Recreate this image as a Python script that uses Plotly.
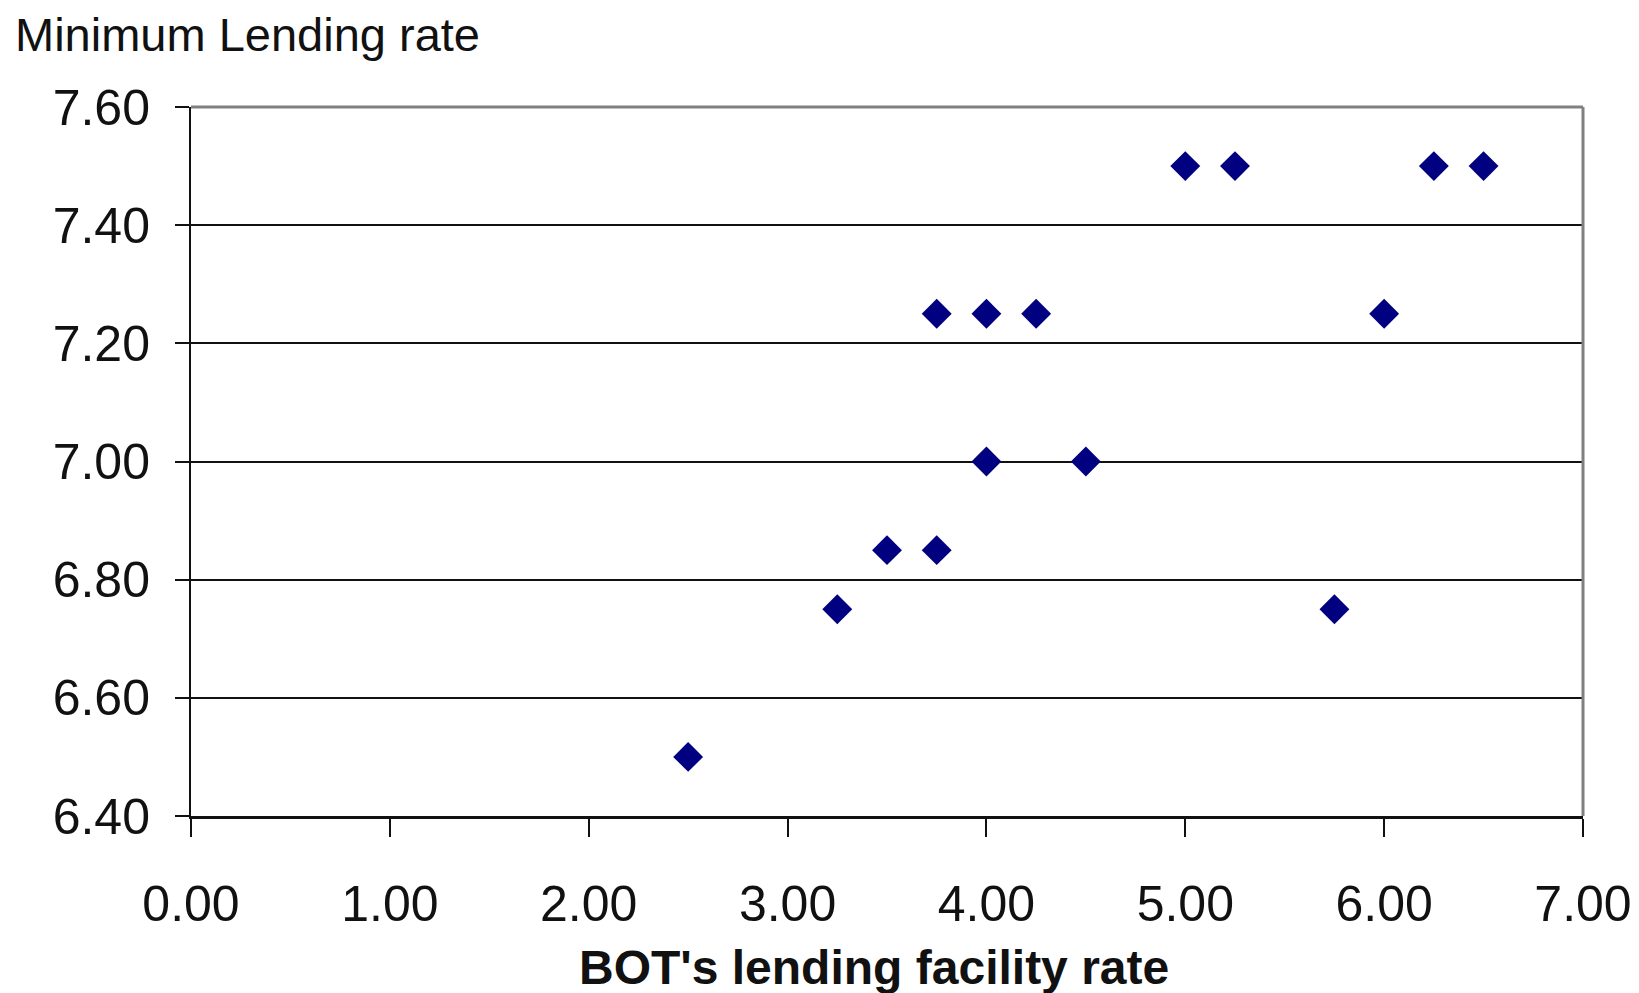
import plotly.graph_objects as go

# BOT's lending facility rate vs. minimum lending rate
facility_rate = [2.50, 3.25, 3.50, 3.75, 3.75, 4.00, 4.25, 4.00, 4.50, 5.00, 5.25, 5.75, 6.00, 6.25, 6.50]
min_lending_rate = [6.50, 6.75, 6.85, 6.85, 7.25, 7.25, 7.25, 7.00, 7.00, 7.50, 7.50, 6.75, 7.25, 7.50, 7.50]

x_ticks = [0, 1, 2, 3, 4, 5, 6, 7]
y_ticks = [6.40, 6.60, 6.80, 7.00, 7.20, 7.40, 7.60]

FONT = "Liberation Sans, Arial, sans-serif"
TICK_FONT = dict(family=FONT, size=50, color="#111111")

fig = go.Figure()
fig.add_trace(go.Scatter(
    x=facility_rate,
    y=min_lending_rate,
    mode="markers",
    marker=dict(symbol="diamond", size=23, color="#000080", line=dict(width=0)),
    showlegend=False,
    cliponaxis=False,
))

fig.update_layout(
    width=1639,
    height=993,
    margin=dict(l=191, r=56, t=107, b=177),
    paper_bgcolor="white",
    plot_bgcolor="white",
    xaxis=dict(
        range=[0, 7],
        tickvals=x_ticks,
        ticktext=[f"{v:.2f}" for v in x_ticks],
        showgrid=False,
        zeroline=False,
        showline=True,
        linecolor="#111111",
        linewidth=3,
        ticks="outside",
        ticklen=18,
        tickwidth=2,
        tickcolor="#111111",
        tickfont=TICK_FONT,
        ticklabelstandoff=24,
        automargin=False,
    ),
    yaxis=dict(
        range=[6.40, 7.60],
        tickvals=y_ticks,
        ticktext=[f"{v:.2f}" for v in y_ticks],
        showgrid=True,
        gridcolor="#111111",
        gridwidth=2,
        zeroline=False,
        showline=True,
        linecolor="#111111",
        linewidth=2,
        ticks="outside",
        ticklen=14,
        tickwidth=2,
        tickcolor="#111111",
        tickfont=TICK_FONT,
        ticklabelstandoff=15,
        automargin=False,
    ),
    shapes=[
        # grey frame on the top and right of the plot area
        dict(type="line", xref="paper", yref="paper", x0=0, x1=1, y0=1, y1=1,
             line=dict(color="#808080", width=3)),
        dict(type="line", xref="paper", yref="paper", x0=1, x1=1, y0=0, y1=1,
             line=dict(color="#808080", width=3)),
    ],
    annotations=[
        dict(text="Minimum Lending rate", xref="paper", yref="paper",
             x=-0.128, y=1.102, xanchor="left", yanchor="middle", showarrow=False,
             font=dict(family=FONT, size=47, color="#111111")),
        dict(text="<b>BOT's lending facility rate</b>", xref="paper", yref="paper",
             x=0.491, y=-0.213, xanchor="center", yanchor="middle", showarrow=False,
             font=dict(family=FONT, size=48, color="#111111")),
    ],
)

fig.write_html("out.html")
